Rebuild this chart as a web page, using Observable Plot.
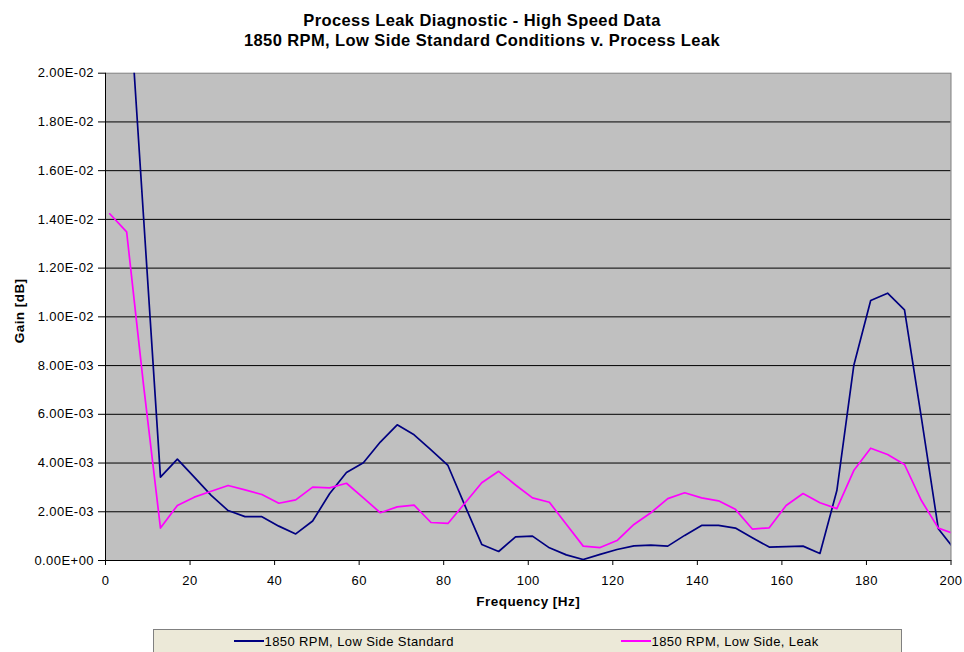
<!DOCTYPE html>
<html><head><meta charset="utf-8">
<script src="https://cdn.jsdelivr.net/npm/d3@7"></script>
<script src="https://cdn.jsdelivr.net/npm/@observablehq/plot@0.6"></script>
<style>
body{margin:0;background:#fff;font-family:"Liberation Sans",Arial,sans-serif;}
#wrap{position:relative;width:964px;height:652px;overflow:hidden;}
#title{position:absolute;left:0;top:10px;width:964px;text-align:center;font-weight:bold;font-size:16.5px;line-height:20px;letter-spacing:0.4px;color:#000;}
#chart{position:absolute;left:0;top:60px;}
#legend{position:absolute;left:152.5px;top:628.5px;width:749px;height:40px;background:#ECE9D8;border:1px solid #808080;box-sizing:border-box;}
.item{position:absolute;top:4px;font-size:13px;letter-spacing:0.4px;line-height:16px;white-space:nowrap;}
.sw{display:inline-block;width:30px;height:2px;vertical-align:middle;margin-right:1px;position:relative;top:-1px;}
</style>
</head><body>
<div id="wrap">
  <div id="title"></div>
  <div id="chart"></div>
  <div id="legend"></div>
</div>
<script>
const titleLines = ["Process Leak Diagnostic - High Speed Data", "1850 RPM, Low Side Standard Conditions v. Process Leak"];
const xLabel = "Frequency [Hz]";
const yLabel = "Gain [dB]";
const seriesNames = ["1850 RPM, Low Side Standard", "1850 RPM, Low Side, Leak"];
const seriesColors = ["#000080", "#FF00FF"];

const freq = [1,5,9,13,17,21,25,29,33,37,41,45,49,53,57,61,65,69,73,77,81,85,89,93,97,101,105,109,113,117,121,125,129,133,137,141,145,149,153,157,161,165,169,173,177,181,185,189,193,197,201];

const standard = [0.035,0.0248,0.0141,0.00342,0.00416,0.00342,0.00267,0.00205,0.00180,0.00180,0.00141,0.00109,0.00162,0.00274,0.00361,0.00401,0.00486,0.00557,0.00516,0.00454,0.00390,0.00226,0.00066,0.00037,0.00097,0.00100,0.00052,0.00023,0.00004,0.00025,0.00045,0.00060,0.00063,0.00059,0.00103,0.00144,0.00144,0.00133,0.00093,0.00055,0.00057,0.00059,0.00029,0.00287,0.00800,0.01067,0.01097,0.01029,0.00585,0.00130,0.00042];

const leak = [0.01423,0.01349,0.0072,0.00133,0.00226,0.00260,0.00284,0.00308,0.00290,0.00271,0.00235,0.00249,0.00301,0.00298,0.00317,0.00257,0.00196,0.00220,0.00227,0.00156,0.00152,0.00235,0.00319,0.00366,0.00310,0.00257,0.00239,0.00149,0.00059,0.00053,0.00082,0.00148,0.00196,0.00254,0.00278,0.00257,0.00245,0.00210,0.00129,0.00134,0.00226,0.00275,0.00237,0.00213,0.00369,0.00461,0.00435,0.00394,0.00246,0.00133,0.00108];

const xTicks = [0,20,40,60,80,100,120,140,160,180,200];
const yTicks = [0,0.002,0.004,0.006,0.008,0.010,0.012,0.014,0.016,0.018,0.020];
const yTickLabels = ["0.00E+00","2.00E-03","4.00E-03","6.00E-03","8.00E-03","1.00E-02","1.20E-02","1.40E-02","1.60E-02","1.80E-02","2.00E-02"];

const stdData = freq.map((f,i)=>({f, v: standard[i]}));
const leakData = freq.map((f,i)=>({f, v: leak[i]}));

document.getElementById("title").innerHTML = titleLines.map(t=>`<div>${t}</div>`).join("");

const chart = Plot.plot({
  width: 964, height: 560,
  marginLeft: 105, marginRight: 13.5, marginTop: 12.7, marginBottom: 60,
  style: {fontFamily: "'Liberation Sans', Arial, sans-serif", fontSize: "13px", letterSpacing: "0.45px", background: "transparent", overflow: "visible", color: "#000"},
  x: {domain: [0, 200], ticks: xTicks},
  y: {domain: [0, 0.02], ticks: yTicks},
  marks: [
    Plot.frame({fill: "#C0C0C0"}),
    Plot.ruleY(yTicks.filter(v => v > 0 && v < 0.02), {stroke: "#000", strokeWidth: 1}),
    Plot.frame({stroke: "#808080"}),
    Plot.lineY(stdData, {x: "f", y: "v", stroke: seriesColors[0], strokeWidth: 1.7, clip: true}),
    Plot.lineY(leakData, {x: "f", y: "v", stroke: seriesColors[1], strokeWidth: 1.7, clip: true}),
    Plot.ruleX([0], {stroke: "#000"}),
    Plot.ruleY([0], {stroke: "#000"}),
    Plot.axisY({ticks: yTicks, tickFormat: d => yTickLabels[yTicks.indexOf(d)], tickSize: 7, tickPadding: 4.5, label: null}),
    Plot.axisX({ticks: xTicks, tickSize: 5, tickPadding: 10.5, label: null}),
    Plot.text([xLabel], {frameAnchor: "bottom", dy: 45, fontWeight: "bold", fontSize: 13.5}),
    Plot.text([yLabel], {frameAnchor: "left", textAnchor: "middle", dx: -86, dy: -6, rotate: -90, fontWeight: "bold", fontSize: 13.5})
  ]
});
document.getElementById("chart").appendChild(chart);

const leg = document.getElementById("legend");
const pos = [80, 467];
seriesNames.forEach((n, i) => {
  const d = document.createElement("div");
  d.className = "item";
  d.style.left = pos[i] + "px";
  d.innerHTML = `<span class="sw" style="background:${seriesColors[i]}"></span>${n}`;
  leg.appendChild(d);
});
</script>
</body></html>
